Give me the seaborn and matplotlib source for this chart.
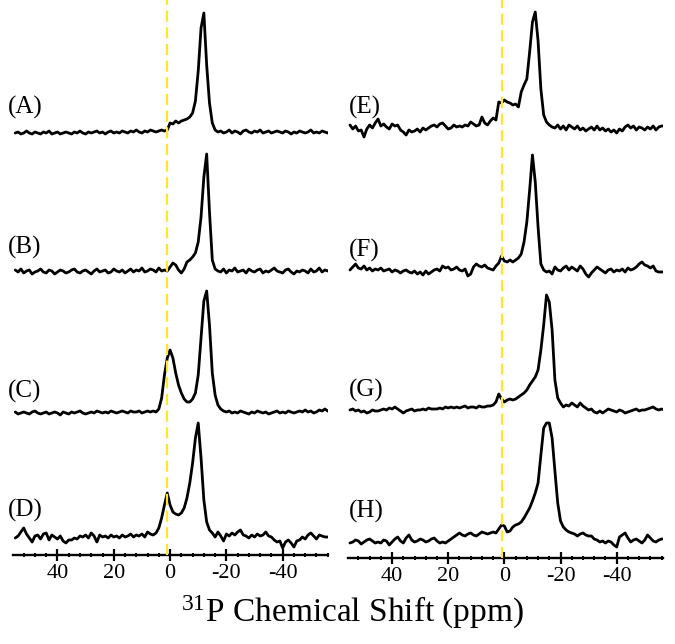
import numpy as np
import pandas as pd
import matplotlib
matplotlib.use("Agg")
import matplotlib.pyplot as plt
from matplotlib.ticker import MultipleLocator
import seaborn as sns

# chemical shift grid (ppm), 55 -> -57 in 1 ppm steps
ppm = np.arange(55, -58, -1)

# intensities (arbitrary units, baseline ~ 0)
spec_A = [0, 1, -1, 0, 2, 0, -1, 1, 0, -1,
          1, 0, 2, -1, 0, 1, -1, 0, 1, 0,
          -1, 1, 0, 2, 0, -1, 1, 0, 1, 2,
          0, 1, -1, 1, 2, 0, 1, 0, 2, 1,
          0, 2, 1, 3, 1, 0, 2, 1, 3, 2,
          1, 2, 3, 2, 3, 10, 9, 12, 10, 12,
          13, 14, 16, 20, 32, 62, 105, 120, 68, 30,
          10, 3, 1, 2, 0, 1, 3, 0, 2, 1,
          -1, 2, 3, 1, 0, 2, 1, 3, 0, 1,
          2, 0, 1, 2, 1, 0, 2, 1, -1, 1,
          0, 2, 1, 0, 1, 3, 0, 1, 0, 2,
          1, 0, 2]
spec_B = [2, 0, 3, -1, 1, 2, -2, 0, 1, 3,
          0, -1, 2, 1, -2, 0, 2, 1, -1, 0,
          2, 3, 0, -1, 1, 2, 0, -2, 1, 3,
          0, 1, 2, -1, 0, 3, 1, 0, 2, -1,
          1, 3, 0, 2, 1, 4, 0, 1, 3, 2,
          0, 4, 1, 2, 1, 5, 9, 7, 2, -1,
          3, 10, 12, 15, 19, 30, 55, 95, 118, 60,
          12, 3, 1, 0, 3, -1, 2, 1, 4, 0,
          1, 2, -1, 3, 1, 0, 2, 3, -1, 1,
          0, 2, 4, 1, 0, -1, 2, 3, 0, -2,
          1, 0, 2, 1, -1, 3, 0, 1, 4, 0,
          2, 1, 3]
spec_C = [1, -1, 0, 1, 0, -1, 1, 2, 0, -1,
          0, 1, -1, 0, 1, 0, -2, 1, 0, -1,
          1, 0, 1, 2, 0, -1, 0, 1, 0, 2,
          1, 0, 1, 0, 2, 1, 0, 1, 2, 1,
          0, 2, 1, 1, 2, 0, 1, 2, 1, 2,
          1, 4, 15, 38, 55, 63, 55, 40, 28, 20,
          14, 11, 11, 14, 20, 38, 75, 112, 122, 88,
          40, 18, 8, 4, 2, 1, 2, 0, 1, 0,
          2, 1, 0, -1, 1, 0, 2, 1, 0, 1,
          -1, 0, 1, 2, 0, 1, 0, 2, 1, 0,
          1, 2, 1, 3, 1, 2, 0, 1, 3, 2,
          4, 2, 1]
spec_D = [0, 2, 6, 10, 4, 0, -4, 2, 3, -1,
          4, 5, -2, 3, 1, -1, 2, -3, -5, -2,
          -2, 0, -1, 2, 1, 3, 0, 5, 2, -4,
          3, 1, 2, 0, 3, 1, 2, 0, 3, 1,
          2, 4, 1, 3, 2, 4, 1, 6, 4, 3,
          5, 10, 20, 33, 45, 33, 26, 24, 23, 25,
          30, 40, 55, 75, 100, 115, 80, 38, 16, 8,
          5, 1, 6, 2, -3, 4, 2, 5, 3, 6,
          8, 3, 2, 0, 3, 1, 4, 2, 3, 6,
          2, 1, -2, -4, -3, -10, -4, -2, -5, -9,
          -3, -2, 1, -1, 3, 5, 2, -1, 3, 2,
          1, 1, 1]
spec_E = [2, -2, 1, -4, -3, -10, -2, 2, -1, 4,
          8, 1, 3, 0, -2, 3, 1, 2, -3, -5,
          -8, -3, -5, -4, -2, -5, -1, -3, -1, 1,
          2, 0, 3, 4, 1, -2, -1, 2, 0, 1,
          0, 2, 1, 5, 3, 1, 2, 10, 4, 2,
          6, 9, 7, 25, 24, 27, 25, 24, 22, 23,
          20, 35, 42, 48, 75, 105, 115, 86, 38, 12,
          5, 2, 0, -1, 2, -2, 1, -3, 2, 0,
          -2, 1, -3, -1, -4, -2, 0, -3, 1, -3,
          -1, -4, -2, -5, -3, -6, -2, -4, 0, 2,
          -1, 1, -3, 0, -1, -3, 0, -2, 1, -3,
          0, 1, 1]
spec_F = [2, 5, 8, 4, 3, 6, 2, 4, 1, 3,
          2, 4, 1, 2, 3, 0, 2, 1, -1, 1,
          2, 0, -1, 1, -2, 0, -3, 1, -2, 0,
          2, 3, 1, 6, 4, 5, 2, 3, 5, 2,
          1, 3, -4, -2, 5, 8, 6, 5, 7, 4,
          3, 2, 6, 9, 16, 11, 10, 12, 10, 12,
          14, 18, 30, 50, 82, 117, 90, 45, 8, 2,
          0, 1, -2, 5, 2, 1, 4, 6, 2, 5,
          3, 1, 6, 3, -2, -5, -1, 2, 5, 3,
          1, -1, 2, 3, 0, 2, 1, 3, 0, 4,
          2, 3, 5, 8, 10, 7, 6, 4, 6, 1,
          0, 0, 0]
spec_G = [0, 1, -1, 0, -2, -1, -3, -2, 0, -1,
          -1, 0, 1, 0, 2, 1, 3, 1, -1, -3,
          -1, 0, 1, -1, 0, 0, 1, 0, 2, 1,
          1, 1, 2, 1, 3, 2, 3, 2, 3, 2,
          3, 4, 2, 3, 3, 2, 4, 3, 3, 4,
          4, 5, 8, 16, 11, 8, 10, 11, 10, 11,
          13, 15, 17, 20, 25, 29, 33, 40, 60, 85,
          115, 108, 80, 30, 12, 7, 3, 5, 4, 7,
          5, 3, 7, 4, 2, 0, 1, -2, -3, -1,
          -3, -1, 1, 0, -1, -2, 0, -1, -3, -2,
          -1, 0, 1, -1, 0, 0, 1, 2, 3, 1,
          0, 1, 0]
spec_H = [0, 1, 3, 2, -1, 1, 3, 4, 2, 0,
          1, 0, 3, 2, -2, 1, 4, 6, 2, 0,
          5, 8, 3, 1, 2, 4, 3, 1, 2, 4,
          5, 2, 0, 1, 0, 2, 4, 6, 8, 10,
          8, 7, 9, 10, 8, 7, 9, 11, 10, 9,
          10, 11, 10, 14, 18, 17, 11, 12, 16, 18,
          19, 21, 25, 30, 35, 42, 50, 60, 88, 115,
          120, 120, 105, 72, 40, 22, 16, 13, 11, 10,
          9, 7, 9, 10, 8, 7, 7, 4, 3, 1,
          2, 0, 2, 1, -2, -4, 6, 8, 10, 5,
          1, 3, 4, 2, 0, 3, 8, 5, 2, 1,
          3, 4, 4]

left_labels = ["(A)", "(B)", "(C)", "(D)"]
right_labels = ["(E)", "(F)", "(G)", "(H)"]
ref_line = 1.0  # ppm of dashed marker
major_ticks = [40, 20, 0, -20, -40]

sns.set_style("white")
plt.rcParams["font.family"] = ["Liberation Serif", "DejaVu Serif"]
plt.rcParams["mathtext.fontset"] = "custom"
plt.rcParams["mathtext.rm"] = "Liberation Serif"
plt.rcParams["text.color"] = "black"
plt.rcParams["xtick.labelcolor"] = "black"

W, H = 675, 644
fig = plt.figure(figsize=(W / 100, H / 100), dpi=100)


def stack_panel(ax, spectra, offsets, x_lo, x_hi, ytop):
    frames = []
    for name, vals, off in zip(spectra.keys(), spectra.values(), offsets):
        frames.append(pd.DataFrame({"ppm": ppm, "y": np.asarray(vals) + off, "trace": name}))
    df = pd.concat(frames, ignore_index=True)
    sns.lineplot(data=df, x="ppm", y="y", hue="trace", palette=["black"] * len(spectra),
                 estimator=None, legend=False, linewidth=2.0, ax=ax)
    ax.axvline(ref_line, color="#ffe62e", linewidth=1.6, dashes=(5, 2.5), zorder=5)
    ax.set_xlim(x_lo, x_hi)
    ax.set_ylim(0, ytop)
    ax.set_xlabel("")
    ax.set_ylabel("")
    ax.set_yticks([])
    for s in ["left", "right", "top"]:
        ax.spines[s].set_visible(False)
    ax.spines["bottom"].set_linewidth(1.7)
    ax.spines["bottom"].set_color("black")
    ax.set_xticks(major_ticks)
    ax.set_xticklabels([str(t) for t in major_ticks], fontsize=16, color="black")
    ax.xaxis.set_minor_locator(MultipleLocator(4))
    ax.tick_params(axis="x", which="major", bottom=True, direction="inout", length=9,
                   width=1.6, color="black", pad=2)
    ax.tick_params(axis="x", which="minor", bottom=True, direction="inout", length=3.5,
                   width=1.4, color="black")
    ax.patch.set_alpha(0)


ax_l = fig.add_axes([13 / W, (H - 555) / H, 315 / W, 555 / H])
left_specs = {"A": spec_A, "B": spec_B, "C": spec_C, "D": spec_D}
stack_panel(ax_l, left_specs, [422, 283, 142, 17], 55.8, -56.1, 555)

ax_r = fig.add_axes([348 / W, (H - 558) / H, 315 / W, 558 / H])
right_specs = {"E": spec_E, "F": spec_F, "G": spec_G, "H": spec_H}
stack_panel(ax_r, right_specs, [431, 286, 148, 15], 55.7, -56.5, 558)

for lab, yp in zip(left_labels, [107, 247, 391, 510]):
    fig.text(8 / W, 1 - yp / H, lab, fontsize=18, ha="left", va="center", color="black")
for lab, yp in zip(right_labels, [107, 250, 390, 511]):
    fig.text(349 / W, 1 - yp / H, lab, fontsize=18, ha="left", va="center", color="black")

fig.text(352 / W, 1 - 622 / H, r"$\mathregular{^{31}}$P Chemical Shift (ppm)",
         fontsize=24, ha="center", va="baseline", color="black")

fig.savefig("out.png", dpi=100, facecolor="white")
